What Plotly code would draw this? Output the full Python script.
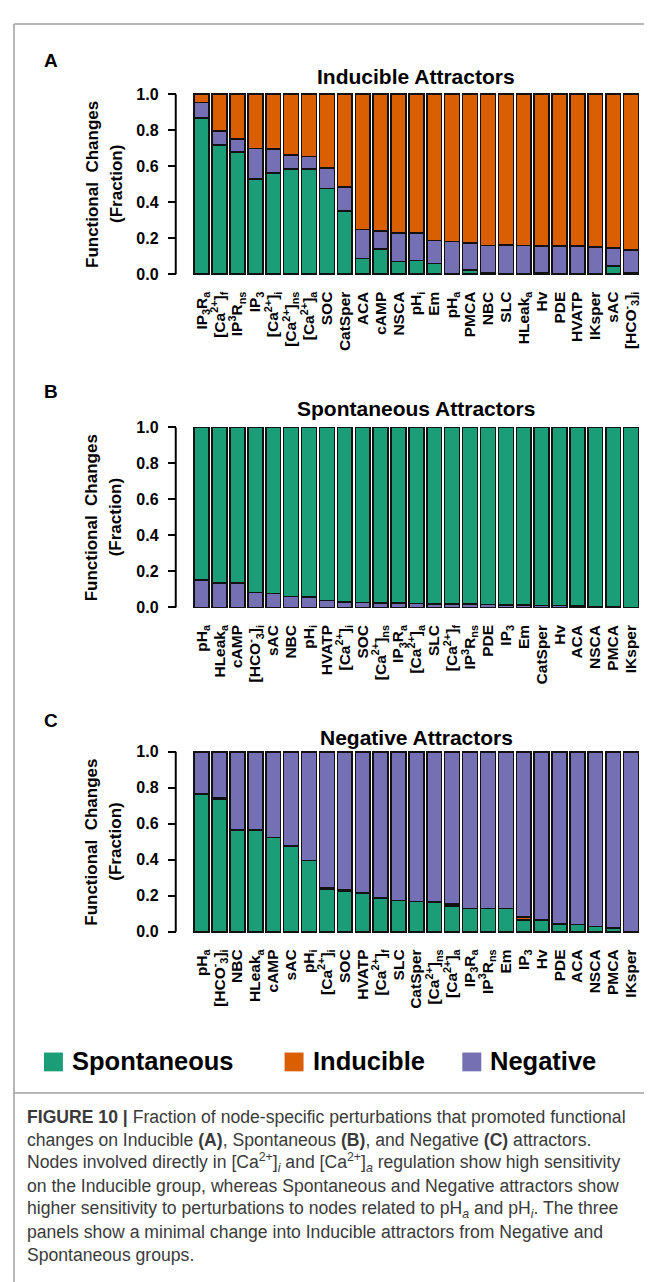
import plotly.graph_objects as go

W, H = 652, 1282

# ---------------- data ----------------
cats_A = ["IP<sub>3</sub>R<sub>a</sub>", "[Ca<sup>2+</sup>]<sub>f</sub>", "IP<sup>3</sup>R<sub>ns</sub>", "IP<sub>3</sub>",
          "[Ca<sup>2+</sup>]<sub>i</sub>", "[Ca<sup>2+</sup>]<sub>ns</sub>", "[Ca<sup>2+</sup>]<sub>a</sub>", "SOC", "CatSper",
          "ACA", "cAMP", "NSCA", "pH<sub>i</sub>", "Em", "pH<sub>a</sub>", "PMCA", "NBC", "SLC", "HLeak<sub>a</sub>",
          "Hv", "PDE", "HVATP", "IKsper", "sAC", "[HCO<sup>-</sup><sub>3</sub>]<sub>i</sub>"]
spont_A = [0.866, 0.716, 0.679, 0.528, 0.563, 0.585, 0.583, 0.477, 0.350, 0.086, 0.141, 0.070, 0.077,
           0.059, 0.0, 0.022, 0.008, 0.0, 0.0, 0.005, 0.0, 0.0, 0.0, 0.045, 0.005]
neg_A = [0.088, 0.078, 0.073, 0.169, 0.131, 0.076, 0.070, 0.114, 0.133, 0.162, 0.098, 0.159, 0.152,
         0.128, 0.180, 0.152, 0.152, 0.161, 0.160, 0.151, 0.155, 0.155, 0.150, 0.100, 0.130]
induc_A = [0.046, 0.206, 0.248, 0.303, 0.306, 0.339, 0.347, 0.409, 0.517, 0.752, 0.761, 0.771, 0.771,
           0.813, 0.820, 0.826, 0.840, 0.839, 0.840, 0.844, 0.845, 0.845, 0.850, 0.855, 0.865]

cats_B = ["pH<sub>a</sub>", "HLeak<sub>a</sub>", "cAMP", "[HCO<sup>-</sup><sub>3</sub>]<sub>i</sub>", "sAC", "NBC",
          "pH<sub>i</sub>", "HVATP", "[Ca<sup>2+</sup>]<sub>i</sub>", "SOC", "[Ca<sup>2+</sup>]<sub>ns</sub>",
          "IP<sub>3</sub>R<sub>a</sub>", "[Ca<sup>2+</sup>]<sub>a</sub>", "SLC", "[Ca<sup>2+</sup>]<sub>f</sub>",
          "IP<sup>3</sup>R<sub>ns</sub>", "PDE", "IP<sub>3</sub>", "Em", "CatSper", "Hv", "ACA", "NSCA", "PMCA", "IKsper"]
neg_B = [0.152, 0.137, 0.136, 0.082, 0.077, 0.062, 0.059, 0.038, 0.031, 0.027, 0.024, 0.024, 0.022,
         0.020, 0.018, 0.018, 0.016, 0.013, 0.010, 0.012, 0.010, 0.008, 0.005, 0.003, 0.0]
induc_B = [0.0, 0.0, 0.0, 0.0, 0.0, 0.0, 0.0, 0.0, 0.0, 0.0, 0.0, 0.0, 0.0,
           0.0, 0.0, 0.0, 0.0, 0.002, 0.004, 0.0, 0.0, 0.0, 0.0, 0.0, 0.0]
spont_B = [0.848, 0.863, 0.864, 0.918, 0.923, 0.938, 0.941, 0.962, 0.969, 0.973, 0.976, 0.976, 0.978,
           0.980, 0.982, 0.982, 0.984, 0.985, 0.986, 0.988, 0.990, 0.992, 0.995, 0.997, 1.0]

cats_C = ["pH<sub>a</sub>", "[HCO<sup>-</sup><sub>3</sub>]<sub>i</sub>", "NBC", "HLeak<sub>a</sub>", "cAMP", "sAC",
          "pH<sub>i</sub>", "[Ca<sup>2+</sup>]<sub>i</sub>", "SOC", "HVATP", "[Ca<sup>2+</sup>]<sub>f</sub>", "SLC",
          "CatSper", "[Ca<sup>2+</sup>]<sub>ns</sub>", "[Ca<sup>2+</sup>]<sub>a</sub>", "IP<sub>3</sub>R<sub>a</sub>",
          "IP<sup>3</sup>R<sub>ns</sub>", "Em", "IP<sub>3</sub>", "Hv", "PDE", "ACA", "NSCA", "PMCA", "IKsper"]
spont_C = [0.765, 0.738, 0.565, 0.565, 0.525, 0.478, 0.396, 0.235, 0.225, 0.215, 0.185, 0.175, 0.168,
           0.163, 0.145, 0.130, 0.130, 0.130, 0.066, 0.066, 0.045, 0.040, 0.030, 0.020, 0.002]
induc_C = [0.0, 0.005, 0.0, 0.0, 0.0, 0.0, 0.0, 0.009, 0.007, 0.0, 0.006, 0.0, 0.0,
           0.006, 0.009, 0.0, 0.0, 0.0, 0.016, 0.0, 0.0, 0.0, 0.0, 0.005, 0.0]
neg_C = [0.235, 0.257, 0.435, 0.435, 0.475, 0.522, 0.604, 0.756, 0.768, 0.785, 0.809, 0.825, 0.832,
         0.831, 0.846, 0.870, 0.870, 0.870, 0.918, 0.934, 0.955, 0.960, 0.970, 0.975, 0.998]

y_ticks = [0.0, 0.2, 0.4, 0.6, 0.8, 1.0]
y_ticktext = ["0.0", "0.2", "0.4", "0.6", "0.8", "1.0"]
panel_titles = ["Inducible Attractors", "Spontaneous Attractors", "Negative Attractors"]
panel_letters = ["A", "B", "C"]
legend_names = ["Spontaneous", "Inducible", "Negative"]

GREEN, ORANGE, PURPLE = "#1B9E77", "#D95F02", "#7570B3"
FONT = "Liberation Sans"

# ---------------- layout helpers ----------------
def px_x(x):
    return x / W

def px_y(y):
    return 1 - y / H

X_LEFT, X_RIGHT = 185, 633
AXIS_X = 168
panels = [  # (y of 1.0, y of 0.0) in pixels
    (80, 262),
    (417, 599),
    (745, 927),
]
title_y = [62, 398, 730]
letter_y = [46, 381, 713]
PAD = 0.008

fig = go.Figure()

series = [
    [(spont_A, GREEN, "Spontaneous"), (neg_A, PURPLE, "Negative"), (induc_A, ORANGE, "Inducible")],
    [(neg_B, PURPLE, "Negative"), (induc_B, ORANGE, "Inducible"), (spont_B, GREEN, "Spontaneous")],
    [(spont_C, GREEN, "Spontaneous"), (induc_C, ORANGE, "Inducible"), (neg_C, PURPLE, "Negative")],
]
cats_all = [cats_A, cats_B, cats_C]

shapes = []
annotations = []
layout_axes = {}

for i in range(3):
    sfx = "" if i == 0 else str(i + 1)
    xa, ya = "x" + sfx, "y" + sfx
    for vals, col, name in series[i]:
        fig.add_trace(go.Bar(
            x=cats_all[i], y=vals, name=name, xaxis=xa, yaxis=ya,
            marker=dict(color=col, line=dict(color="#111111", width=1.5)),
            showlegend=False, hoverinfo="skip"))
    top, bot = panels[i]
    hpx = bot - top
    dom = [px_y(bot + PAD * hpx), px_y(top - PAD * hpx)]
    layout_axes["xaxis" + sfx] = dict(
        domain=[px_x(X_LEFT), px_x(X_RIGHT)], anchor=ya, type="category",
        categoryorder="array", categoryarray=cats_all[i],
        tickmode="array", tickvals=cats_all[i], ticktext=cats_all[i],
        range=[-0.5, 24.5], showgrid=False, zeroline=False, showline=False, ticks="",
        tickangle=-90, tickfont=dict(family=FONT, size=15.5, color="black", weight="bold"),
        ticklabelstandoff=12, fixedrange=True)
    layout_axes["yaxis" + sfx] = dict(
        domain=dom, anchor="free", position=px_x(AXIS_X), range=[-PAD, 1 + PAD],
        showgrid=False, zeroline=False, showline=False, ticks="outside", ticklen=8,
        tickwidth=2, tickcolor="black", tickvals=y_ticks, ticktext=y_ticktext,
        tickfont=dict(family=FONT, size=16, color="black", weight="bold"),
        ticklabelstandoff=6, fixedrange=True)
    # R-style y axis line from 0 to 1
    shapes.append(dict(type="line", xref="paper", yref=ya, x0=px_x(AXIS_X), x1=px_x(AXIS_X),
                       y0=0, y1=1, line=dict(color="black", width=2)))
    # titles
    annotations.append(dict(text=panel_titles[i], xref="paper", yref="paper",
                            x=px_x((X_LEFT + X_RIGHT) / 2), y=px_y(title_y[i]),
                            xanchor="center", yanchor="middle", showarrow=False,
                            font=dict(family=FONT, size=21, color="black", weight="bold")))
    annotations.append(dict(text=panel_letters[i], xref="paper", yref="paper",
                            x=px_x(34), y=px_y(letter_y[i]), xanchor="left", yanchor="middle",
                            showarrow=False,
                            font=dict(family=FONT, size=19, color="black", weight="bold")))
    cy = px_y((top + bot) / 2)
    annotations.append(dict(text="Functional  Changes", xref="paper", yref="paper",
                            x=px_x(84), y=cy, xanchor="center", yanchor="middle", textangle=-90,
                            showarrow=False,
                            font=dict(family=FONT, size=17, color="black", weight="bold")))
    annotations.append(dict(text="(Fraction)", xref="paper", yref="paper",
                            x=px_x(108), y=cy, xanchor="center", yanchor="middle", textangle=-90,
                            showarrow=False,
                            font=dict(family=FONT, size=17, color="black", weight="bold")))

# legend (drawn manually)
leg_sq = [36, 277, 455]
leg_cols = [GREEN, ORANGE, PURPLE]
for x0, col, name in zip(leg_sq, leg_cols, legend_names):
    shapes.append(dict(type="rect", xref="paper", yref="paper",
                       x0=px_x(x0), x1=px_x(x0 + 19), y0=px_y(1068), y1=px_y(1049),
                       fillcolor=col, line=dict(width=0)))
    annotations.append(dict(text=name, xref="paper", yref="paper", x=px_x(x0 + 26), y=px_y(1058),
                            xanchor="left", yanchor="middle", showarrow=False,
                            font=dict(family=FONT, size=25.5, color="black", weight="bold")))

# frame
FR = "#a0a0a0"
shapes.append(dict(type="line", xref="paper", yref="paper", x0=px_x(6), x1=px_x(647),
                   y0=px_y(9), y1=px_y(9), line=dict(color=FR, width=1.5)))
shapes.append(dict(type="line", xref="paper", yref="paper", x0=px_x(647), x1=px_x(647),
                   y0=px_y(9), y1=px_y(1090), line=dict(color=FR, width=1.5)))
shapes.append(dict(type="line", xref="paper", yref="paper", x0=px_x(6), x1=px_x(647),
                   y0=px_y(1090), y1=px_y(1090), line=dict(color=FR, width=1.5)))
shapes.append(dict(type="line", xref="paper", yref="paper", x0=px_x(6), x1=px_x(6),
                   y0=px_y(9), y1=px_y(1282), line=dict(color=FR, width=1.5)))

# caption
caption_lines = [
    "<b>FIGURE 10 |</b> Fraction of node-specific perturbations that promoted functional",
    "changes on Inducible <b>(A)</b>, Spontaneous <b>(B)</b>, and Negative <b>(C)</b> attractors.",
    "Nodes involved directly in [Ca<sup>2+</sup>]<sub><i>i</i></sub> and [Ca<sup>2+</sup>]<sub><i>a</i></sub> regulation show high sensitivity",
    "on the Inducible group, whereas Spontaneous and Negative attractors show",
    "higher sensitivity to perturbations to nodes related to pH<sub><i>a</i></sub> and pH<sub><i>i</i></sub>. The three",
    "panels show a minimal change into Inducible attractors from Negative and",
    "Spontaneous groups.",
]
for k, line in enumerate(caption_lines):
    annotations.append(dict(text=line, xref="paper", yref="paper", x=px_x(17), y=px_y(1114 + 23.3 * k),
                            xanchor="left", yanchor="middle", showarrow=False,
                            font=dict(family=FONT, size=17.6, color="#3a3a3a")))

fig.update_layout(
    width=W, height=H, margin=dict(l=0, r=0, t=0, b=0),
    paper_bgcolor="white", plot_bgcolor="white", barmode="stack", bargap=0.17,
    shapes=shapes, annotations=annotations, showlegend=False,
    **layout_axes)

fig.write_html("out.html")
